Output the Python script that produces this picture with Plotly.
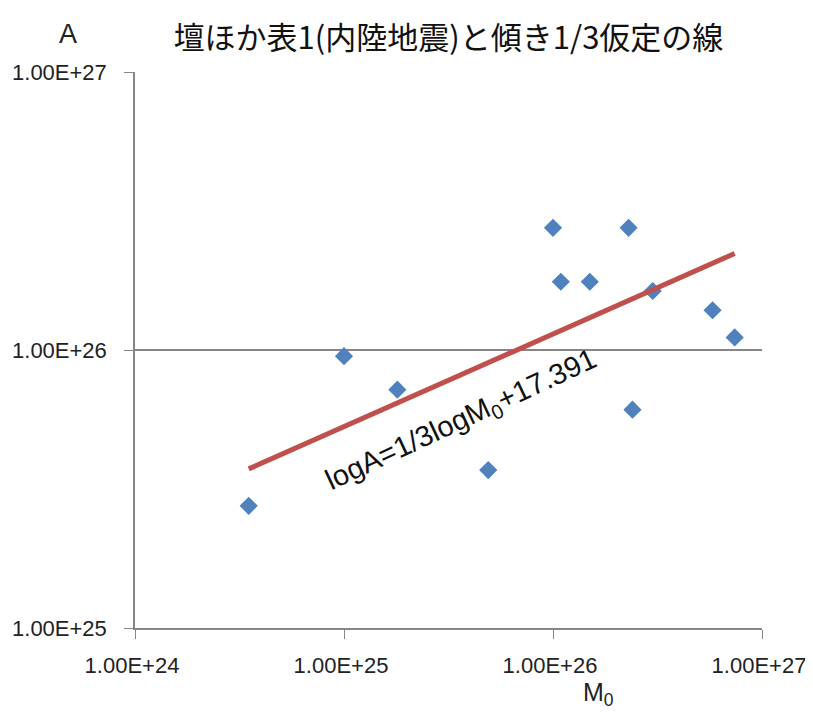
import plotly.graph_objects as go
import numpy as np

# Data
M0 = [3.5e24, 1.0e25, 1.8e25, 4.9e25, 1.0e26, 1.09e26, 1.5e26, 2.3e26, 2.4e26, 3.0e26, 5.8e26, 7.4e26]
A = [2.75e25, 9.5e25, 7.2e25, 3.7e25, 2.75e26, 1.76e26, 1.76e26, 2.75e26, 6.1e25, 1.63e26, 1.39e26, 1.11e26]

slope = 1.0 / 3.0
intercept = 17.391

x_tickvals = [1e24, 1e25, 1e26, 1e27]
x_ticktext = ["1.00E+24", "1.00E+25", "1.00E+26", "1.00E+27"]
y_tickvals = [1e25, 1e26, 1e27]
y_ticktext = ["1.00E+25", "1.00E+26", "1.00E+27"]

title_text = "壇ほか表1(内陸地震)と傾き1/3仮定の線"
eq_text = "logA=1/3logM<sub>0</sub>+17.391"

line_x = [min(M0), max(M0)]
line_y = [10 ** (slope * np.log10(v) + intercept) for v in line_x]

fig = go.Figure()
fig.add_trace(go.Scatter(
    x=M0, y=A, mode="markers",
    marker=dict(symbol="diamond", size=14, color="#4F81BD", line=dict(width=0)),
    showlegend=False, cliponaxis=False))
fig.add_trace(go.Scatter(
    x=line_x, y=line_y, mode="lines",
    line=dict(color="#C0504D", width=5),
    showlegend=False))

tick_font = dict(family="Liberation Sans, sans-serif", size=22, color="#222222")

# page body adds an 8px offset; figure sized so the page does not overflow
fig.update_layout(
    width=805, height=701,
    margin=dict(l=127, r=51, t=64, b=81, autoexpand=False),
    paper_bgcolor="white", plot_bgcolor="white",
    title=dict(text=title_text, x=0.5, xref="paper", y=1 - 30 / 701, yref="container",
               xanchor="center", yanchor="middle",
               font=dict(family="Noto Sans CJK JP", size=31, color="#111111")),
    xaxis=dict(type="log", range=[23.99999, 27.00001], tickvals=x_tickvals, ticktext=x_ticktext,
               automargin=False,
               showgrid=False, zeroline=False, showline=True, linecolor="#868686", linewidth=1.5,
               ticks="outside", ticklen=9, tickcolor="#868686", tickfont=tick_font,
               ticklabelstandoff=8, ticklabelshift=-3),
    yaxis=dict(type="log", range=[24.99999, 27.00001], tickvals=y_tickvals, ticktext=y_ticktext,
               automargin=False,
               showgrid=True, gridcolor="#868686", gridwidth=1.5, zeroline=False,
               showline=True, linecolor="#868686", linewidth=1.5,
               ticks="outside", ticklen=9, tickcolor="#868686", tickfont=tick_font,
               ticklabelstandoff=13),
    annotations=[
        dict(text="A", xref="paper", yref="paper", x=(68 - 135) / 627, y=(628 - 34) / 556,
             showarrow=False, xanchor="center", yanchor="middle",
             font=dict(family="Liberation Sans", size=27, color="#222222")),
        dict(text="M<sub>0</sub>", xref="paper", yref="paper", x=(598 - 135) / 627, y=(628 - 694) / 556,
             showarrow=False, xanchor="center", yanchor="middle",
             font=dict(family="Liberation Sans", size=25, color="#222222")),
        dict(text=eq_text, xref="x", yref="y", x=25.56, y=25.745,
             showarrow=False, textangle=-25, xanchor="center", yanchor="middle",
             font=dict(family="Liberation Sans", size=29, color="#111111")),
    ],
)

fig.write_html("out.html")
